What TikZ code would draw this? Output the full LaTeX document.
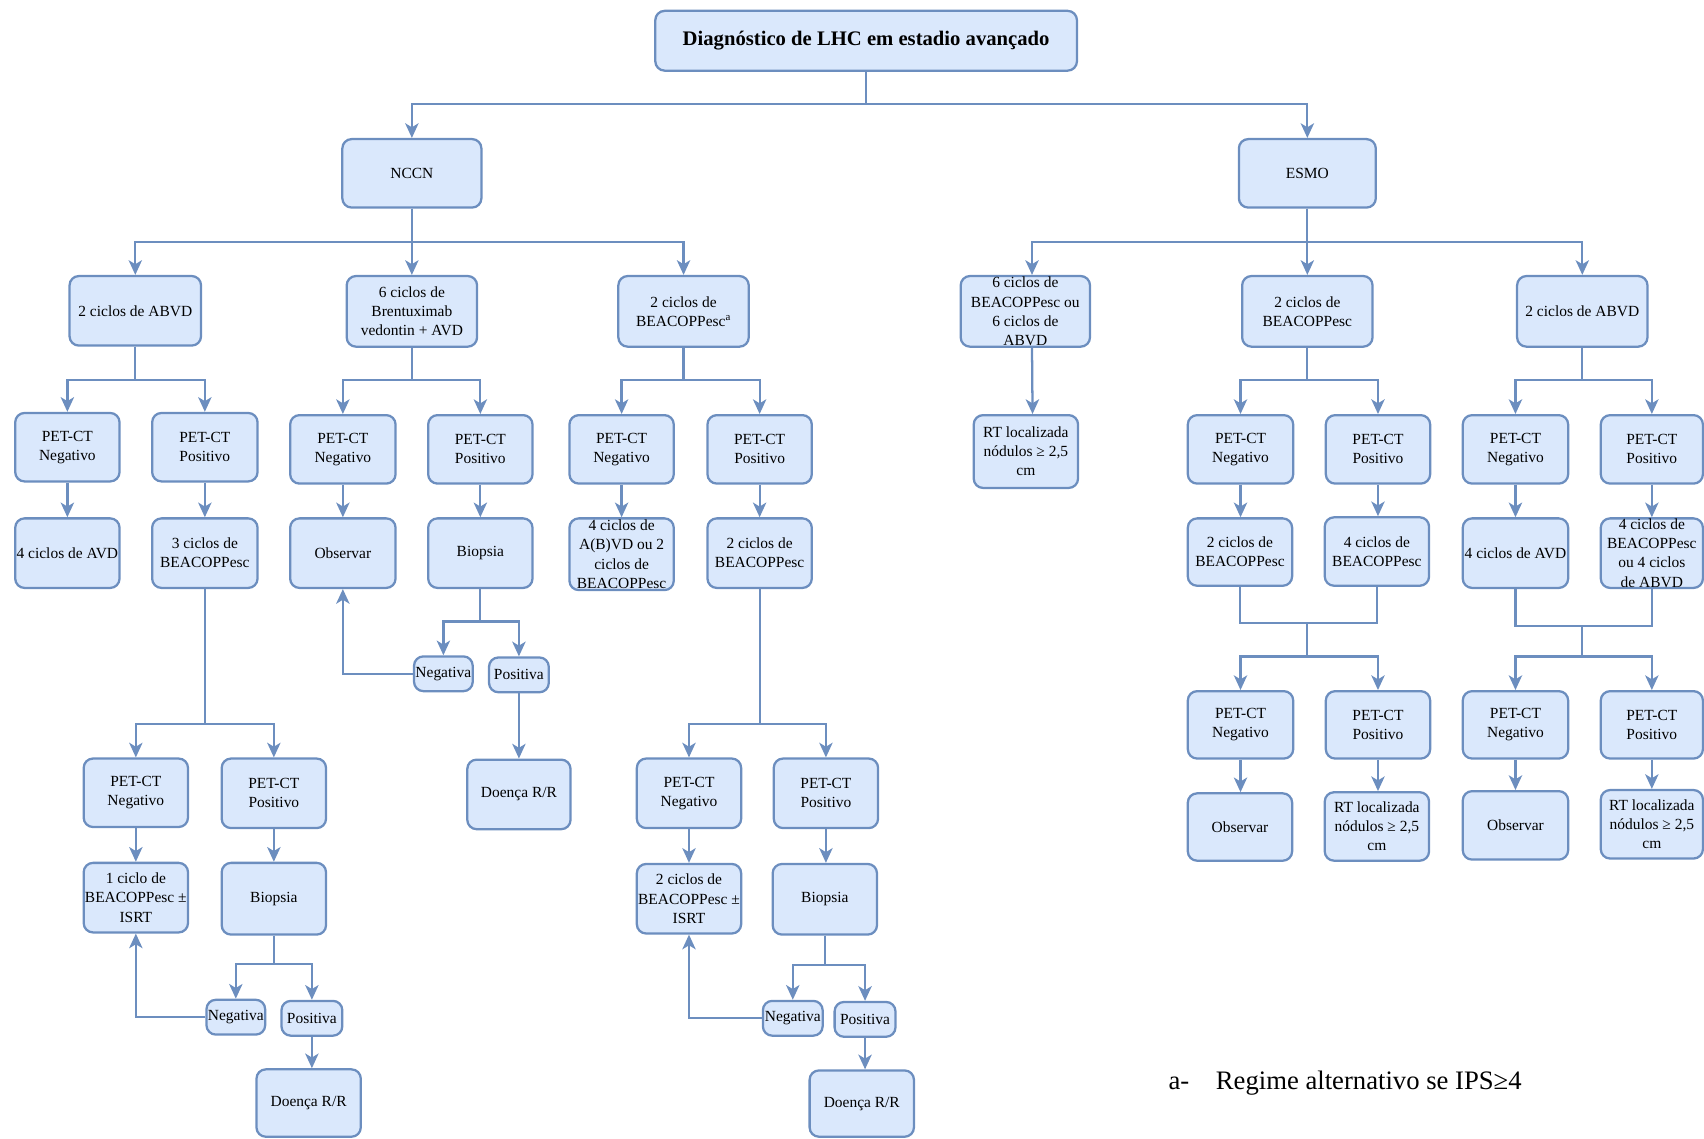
\documentclass[tikz,border=0pt]{standalone}
\usepackage{fontspec}
\setmainfont{Liberation Serif}
\usetikzlibrary{arrows.meta}
\definecolor{bfill}{HTML}{DAE8FC}
\definecolor{bline}{HTML}{6C8EBF}
\newcommand\bx[6]{%
  \node[box, minimum width={(#4-#2)*0.815pt}, minimum height={(#5-#3)*0.815pt}] (#1) at ({(#2+#4)/2},{(#3+#5)/2}) {};
  \node[txt] (#1t) at (#1.center) {#6};}
\begin{document}
\begin{tikzpicture}[x=0.815pt,y=-0.815pt,
  box/.style={draw=bline, fill=bfill, line width=1.7pt, rounded corners=7pt, inner sep=0pt},
  txt/.style={align=center, inner sep=0pt, font=\fontsize{11.6}{14.3}\selectfont},
  line/.style={draw=bline, line width=1.7pt},
  arr/.style={line, -{Stealth[length=11pt,width=10pt,inset=3pt]}}]
\useasboundingbox (0,0) rectangle (1568,1048);
% title and level 1
\node[box, minimum width={388*0.815pt}, minimum height={55*0.815pt}] (title) at (797,37.5) {};
\node[txt, font=\fontsize{15.5}{18}\selectfont\bfseries] (titlet) at (title.center) {Diagnóstico de LHC em estadio avançado};
\bx{nccn}{315}{128}{443}{191}{NCCN}
\bx{esmo}{1140}{128}{1266}{191}{ESMO}
% row 2
\bx{n1}{64}{254}{185}{318}{2 ciclos de ABVD}
\bx{n2}{319}{254}{439}{319}{6 ciclos de\\Brentuximab\\vedontin + AVD}
\bx{n3}{569}{254}{689}{319}{2 ciclos de\\BEACOPPesc\textsuperscript{a}}
\bx{e1}{884}{254}{1003}{319}{6 ciclos de\\BEACOPPesc ou\\6 ciclos de\\ABVD}
\bx{e2}{1143}{254}{1263}{319}{2 ciclos de\\BEACOPPesc}
\bx{e3}{1396}{254}{1516}{319}{2 ciclos de ABVD}
% row 3
\bx{n1n}{14}{380}{110}{443}{PET-CT\\Negativo}
\bx{n1p}{140}{380}{237}{443}{PET-CT\\Positivo}
\bx{n2n}{267}{382}{364}{445}{PET-CT\\Negativo}
\bx{n2p}{394}{382}{490}{445}{PET-CT\\Positivo}
\bx{n3n}{524}{382}{620}{445}{PET-CT\\Negativo}
\bx{n3p}{651}{382}{747}{445}{PET-CT\\Positivo}
\bx{e1r}{896}{382}{992}{449}{RT localizada\\nódulos ≥ 2,5\\cm}
\bx{e2n}{1093}{382}{1190}{445}{PET-CT\\Negativo}
\bx{e2p}{1220}{382}{1316}{445}{PET-CT\\Positivo}
\bx{e3n}{1346}{382}{1443}{445}{PET-CT\\Negativo}
\bx{e3p}{1473}{382}{1567}{445}{PET-CT\\Positivo}
% row 4
\bx{n1a}{14}{477}{110}{541}{4 ciclos de AVD}
\bx{n1b}{140}{477}{237}{541}{3 ciclos de\\BEACOPPesc}
\bx{n2a}{267}{477}{364}{541}{Observar}
\bx{n2b}{394}{477}{490}{541}{Biopsia}
\bx{n3a}{524}{477}{620}{543}{4 ciclos de\\A(B)VD ou 2\\ciclos de\\BEACOPPesc}
\bx{n3b}{651}{477}{747}{541}{2 ciclos de\\BEACOPPesc}
\bx{e2a}{1093}{477}{1189}{539}{2 ciclos de\\BEACOPPesc}
\bx{e2b}{1219}{476}{1315}{539}{4 ciclos de\\BEACOPPesc}
\bx{e3a}{1346}{477}{1443}{541}{4 ciclos de AVD}
\bx{e3b}{1473}{477}{1567}{541}{4 ciclos de\\BEACOPPesc\\ou 4 ciclos\\de ABVD}
% NCCN brentuximab branch
\bx{n2bn}{381}{604}{435}{636}{Negativa}
\bx{n2bp}{450}{605}{505}{637}{Positiva}
\bx{n2br}{430}{699}{525}{763}{Doença R/R}
% NCCN ABVD lower branch
\bx{a3n}{77}{698}{173}{761}{PET-CT\\Negativo}
\bx{a3p}{204}{698}{300}{762}{PET-CT\\Positivo}
\bx{a4n}{77}{794}{173}{858}{1 ciclo de\\BEACOPPesc ±\\ISRT}
\bx{a4p}{204}{794}{300}{860}{Biopsia}
\bx{a5n}{190}{920}{244}{952}{Negativa}
\bx{a5p}{259}{921}{315}{953}{Positiva}
\bx{a6}{236}{984}{332}{1046}{Doença R/R}
% NCCN BEACOPP lower branch
\bx{c3n}{586}{698}{682}{762}{PET-CT\\Negativo}
\bx{c3p}{712}{698}{808}{762}{PET-CT\\Positivo}
\bx{c4n}{586}{795}{682}{859}{2 ciclos de\\BEACOPPesc ±\\ISRT}
\bx{c4p}{711}{795}{807}{860}{Biopsia}
\bx{c5n}{702}{921}{757}{953}{Negativa}
\bx{c5p}{768}{922}{824}{954}{Positiva}
\bx{c6}{745}{985}{841}{1046}{Doença R/R}
% ESMO lower
\bx{e2pn}{1093}{636}{1190}{698}{PET-CT\\Negativo}
\bx{e2pp}{1220}{636}{1316}{698}{PET-CT\\Positivo}
\bx{e2o}{1093}{730}{1189}{792}{Observar}
\bx{e2r}{1219}{729}{1315}{792}{RT localizada\\nódulos ≥ 2,5\\cm}
\bx{e3pn}{1346}{636}{1443}{698}{PET-CT\\Negativo}
\bx{e3pp}{1473}{636}{1567}{698}{PET-CT\\Positivo}
\bx{e3o}{1346}{728}{1443}{791}{Observar}
\bx{e3r}{1473}{727}{1567}{790}{RT localizada\\nódulos ≥ 2,5\\cm}
% footnote
\node[anchor=west, inner sep=0pt, font=\fontsize{20}{24}\selectfont] (fn) at (1075,997) {a-\hspace{20pt}Regime alternativo se IPS≥4};
% bus coordinates
\coordinate (b0) at (0,96);
\coordinate (b1) at (0,223);
\coordinate (b2) at (0,350);
\coordinate (bA) at (0,666);
\coordinate (bB) at (0,572);
\coordinate (bA2) at (0,887);
\coordinate (bC2) at (0,888);
\coordinate (bE) at (0,604);
\coordinate (jE2) at (1203,573);
\coordinate (jE3) at (1456,576);
% forks
\foreach \p/\b/\c in {title/b0/nccn, title/b0/esmo,
  nccn/b1/n1, nccn/b1/n2, nccn/b1/n3, esmo/b1/e2, esmo/b1/e3,
  n1/b2/n1n, n1/b2/n1p, n2/b2/n2n, n2/b2/n2p, n3/b2/n3n, n3/b2/n3p,
  e2/b2/e2n, e2/b2/e2p, e3/b2/e3n, e3/b2/e3p,
  n2b/bB/n2bn, n2b/bB/n2bp,
  n1b/bA/a3n, n1b/bA/a3p, a4p/bA2/a5n, a4p/bA2/a5p,
  n3b/bA/c3n, n3b/bA/c3p, c4p/bC2/c5n, c4p/bC2/c5p}
  {\draw[arr] (\p.south) -- (\p.south |- \b) -| (\c.north);}
\draw[arr] (esmo.south) -- (esmo.south |- b1) -| ([xshift=5pt]e1.north);
% straight arrows
\foreach \a/\c in {n1n/n1a, n1p/n1b, n2n/n2a, n2p/n2b, n3n/n3a, n3p/n3b,
  e2n/e2a, e2p/e2b, e3n/e3a, e3p/e3b, a3n/a4n, a3p/a4p, a5p/a6,
  c3n/c4n, c3p/c4p, c5p/c6, n2bp/n2br, e2pn/e2o, e2pp/e2r, e3pn/e3o, e3pp/e3r}
  {\draw[arr] (\a.south) -- (\a.south |- \c.north);}
\draw[arr] ([xshift=5pt]e1.south) -- ([xshift=5pt]e1r.north);
% loop backs
\draw[arr] (n2bn.west) -| (n2a.south);
\draw[arr] (a5n.west) -| (a4n.south);
\draw[arr] (c5n.west) -| (c4n.south);
% merges
\draw[line] (e2a.south) |- (jE2) -| (e2b.south);
\draw[arr] (jE2) -- (jE2 |- bE) -| (e2pn.north);
\draw[arr] (jE2) -- (jE2 |- bE) -| (e2pp.north);
\draw[line] (e3a.south) |- (jE3) -| (e3b.south);
\draw[arr] (jE3) -- (jE3 |- bE) -| (e3pn.north);
\draw[arr] (jE3) -- (jE3 |- bE) -| (e3pp.north);
\end{tikzpicture}
\end{document}
